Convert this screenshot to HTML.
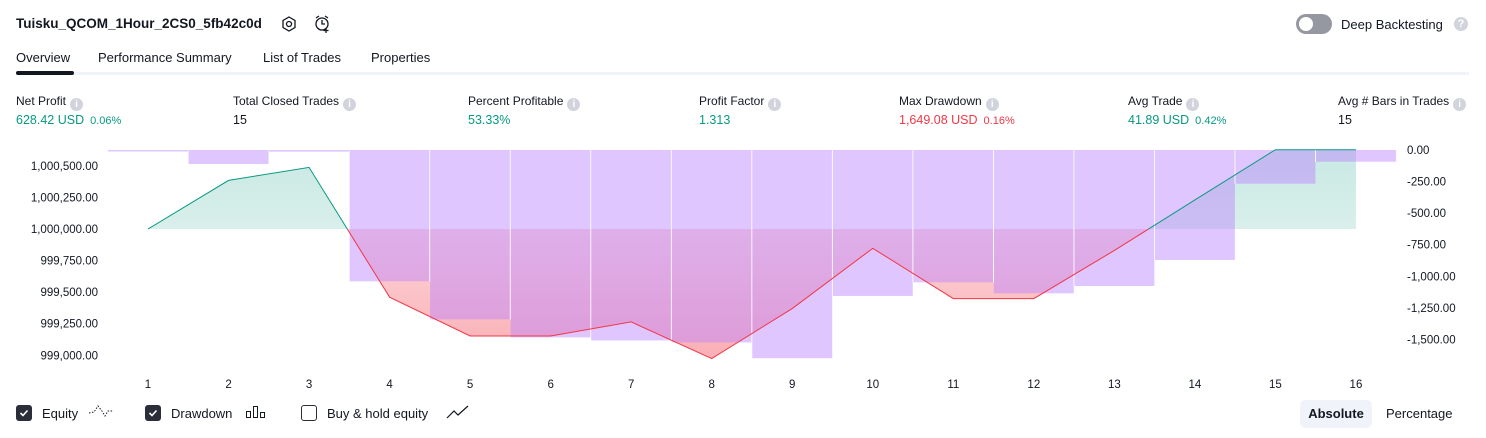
<!DOCTYPE html>
<html><head><meta charset="utf-8">
<style>
body{margin:0;width:1486px;height:438px;background:#fff;font-family:"Liberation Sans",sans-serif;color:#131722;position:relative;overflow:hidden}
.a{position:absolute;white-space:nowrap}
.lbl{font-size:12px;color:#131722}
.val{font-size:12.5px}
.pct{font-size:11px;margin-left:6px}
.info{display:inline-block;width:13px;height:13px;border-radius:50%;background:#d1d4dc;color:#fff;font-size:10px;text-align:center;line-height:13px;vertical-align:-2px;margin-left:4px;font-weight:bold}
.g{color:#089981}.r{color:#f23645}
.cb{position:absolute;width:16px;height:16px;border-radius:3px;box-sizing:border-box}
</style></head><body>
<div class="a" style="left:16px;top:16px;font-size:13.5px;font-weight:bold">Tuisku_QCOM_1Hour_2CS0_5fb42c0d</div>
<svg class="a" style="left:280px;top:15px" width="18" height="18"><polygon points="9,2 15,5.5 15,12.5 9,16 3,12.5 3,5.5" fill="none" stroke="#131722" stroke-width="1.3"/><circle cx="9" cy="9" r="2.5" fill="none" stroke="#131722" stroke-width="1.3"/></svg>
<svg class="a" style="left:313px;top:14px" width="18" height="20"><circle cx="9" cy="10" r="6" fill="none" stroke="#131722" stroke-width="1.3"/><path d="M9 6v4h3M3 4l3-2M15 4l-3-2M13 14v5M10.5 16.5h5" stroke="#131722" stroke-width="1.3" fill="none"/></svg>
<div class="a" style="left:1296px;top:14px;width:36px;height:20px;border-radius:10px;background:#9598a1"><div style="position:absolute;left:3px;top:3px;width:14px;height:14px;border-radius:50%;background:#fff"></div></div>
<div class="a" style="left:1341px;top:17px;font-size:13px">Deep Backtesting</div>
<div class="a" style="left:1454px;top:17px;width:14px;height:14px;border-radius:50%;background:#d1d4dc;color:#fff;font-size:11px;text-align:center;line-height:14px;font-weight:bold">?</div>
<div class="a" style="left:16px;top:50px;font-size:13px">Overview</div>
<div class="a" style="left:98px;top:50px;font-size:13px">Performance Summary</div>
<div class="a" style="left:263px;top:50px;font-size:13px">List of Trades</div>
<div class="a" style="left:371px;top:50px;font-size:13px">Properties</div>
<div class="a" style="left:16px;top:72px;width:1453px;height:3px;background:#f0f3fa"></div>
<div class="a" style="left:16px;top:71px;width:58px;height:4px;border-radius:2px;background:#131722"></div>

<div class="a lbl" style="left:16px;top:94px">Net Profit<span class="info">i</span></div>
<div class="a val g" style="left:16px;top:113px">628.42 USD<span class="pct">0.06%</span></div>
<div class="a lbl" style="left:233px;top:94px">Total Closed Trades<span class="info">i</span></div>
<div class="a val" style="left:233px;top:113px">15</div>
<div class="a lbl" style="left:468px;top:94px">Percent Profitable<span class="info">i</span></div>
<div class="a val g" style="left:468px;top:113px">53.33%</div>
<div class="a lbl" style="left:699px;top:94px">Profit Factor<span class="info">i</span></div>
<div class="a val g" style="left:699px;top:113px">1.313</div>
<div class="a lbl" style="left:899px;top:94px">Max Drawdown<span class="info">i</span></div>
<div class="a val r" style="left:899px;top:113px">1,649.08 USD<span class="pct">0.16%</span></div>
<div class="a lbl" style="left:1128px;top:94px">Avg Trade<span class="info">i</span></div>
<div class="a val g" style="left:1128px;top:113px">41.89 USD<span class="pct">0.42%</span></div>
<div class="a lbl" style="left:1338px;top:94px">Avg # Bars in Trades<span class="info">i</span></div>
<div class="a val" style="left:1338px;top:113px">15</div>

<svg id="chart" class="a" style="left:0;top:0" width="1486" height="395"></svg>

<div class="cb" style="left:16px;top:405px;background:#2a2e39"><svg width="16" height="16"><path d="M4.5 8l2.5 2.5 4.5-5" stroke="#fff" stroke-width="1.6" fill="none"/></svg></div>
<div class="a" style="left:42px;top:406px;font-size:13px">Equity</div>
<svg class="a" style="left:88px;top:403px" width="26" height="16"><path d="M1 10l5-1 4-6 4 5 3 5 3-5 5 0" stroke="#131722" stroke-width="1" stroke-dasharray="1.5 1.5" fill="none"/></svg>
<div class="cb" style="left:145px;top:405px;background:#2a2e39"><svg width="16" height="16"><path d="M4.5 8l2.5 2.5 4.5-5" stroke="#fff" stroke-width="1.6" fill="none"/></svg></div>
<div class="a" style="left:171px;top:406px;font-size:13px">Drawdown</div>
<svg class="a" style="left:246px;top:404px" width="22" height="16"><rect x="0.5" y="7.5" width="4" height="6" fill="none" stroke="#131722"/><rect x="7.5" y="2.5" width="4" height="11" fill="none" stroke="#131722"/><rect x="14.5" y="8.5" width="4" height="5" fill="none" stroke="#131722"/></svg>
<div class="cb" style="left:301px;top:405px;border:1.3px solid #2a2e39;background:#fff"></div>
<div class="a" style="left:327px;top:406px;font-size:13px">Buy &amp; hold equity</div>
<svg class="a" style="left:446px;top:404px" width="24" height="16"><path d="M1 14l7-7 4 4 10-9" stroke="#131722" stroke-width="1.2" fill="none"/></svg>
<div class="a" style="left:1300px;top:400px;width:72px;height:28px;border-radius:5px;background:#f0f3fa;font-size:13px;font-weight:bold;text-align:center;line-height:28px">Absolute</div>
<div class="a" style="left:1386px;top:406px;font-size:13px">Percentage</div>

<script>
const categories=[1,2,3,4,5,6,7,8,9,10,11,12,13,14,15,16];
const equityValues=[1000000,1000385,1000488,999460,999153,999153,999264,998974,999370,999847,999449,999449,999830,1000230,1000628,1000628];
const drawdownValues=[-8,-111,-13,-1040,-1341,-1484,-1508,-1524,-1649,-1156,-1048,-1135,-1077,-871,-267,-93];
const leftTicks=[1000500,1000250,1000000,999750,999500,999250,999000];
const rightTicks=[0,-250,-500,-750,-1000,-1250,-1500];
const equityBase=1000000;

const NS='http://www.w3.org/2000/svg';
const svg=document.getElementById('chart');
const PX=0.12627;
const xs=i=>148+i*80.53;
const yL=v=>229-(v-equityBase)*PX;
const yR=v=>150-v*PX;
function mk(t,a){const e=document.createElementNS(NS,t);for(const k in a)e.setAttribute(k,a[k]);svg.appendChild(e);return e;}
const defs=mk('defs',{});
defs.innerHTML='<linearGradient id="gg" x1="0" y1="0" x2="0" y2="1"><stop offset="0" stop-color="#089981" stop-opacity="0.22"/><stop offset="1" stop-color="#089981" stop-opacity="0.05"/></linearGradient><linearGradient id="rg" x1="0" y1="0" x2="0" y2="1"><stop offset="0" stop-color="#f23645" stop-opacity="0.08"/><stop offset="1" stop-color="#f23645" stop-opacity="0.4"/></linearGradient><clipPath id="ca"><rect x="0" y="0" width="1486" height="229"/></clipPath><clipPath id="cb"><rect x="0" y="229" width="1486" height="200"/></clipPath>';

let pts=categories.map((c,i)=>xs(i)+','+yL(equityValues[i])).join(' ');
let area='M'+xs(0)+','+yL(equityBase)+' L'+pts.split(' ').join(' L')+' L'+xs(categories.length-1)+','+yL(equityBase)+'Z';
let e=mk('path',{d:area,fill:'url(#gg)','clip-path':'url(#ca)'});


e=mk('path',{d:area,fill:'url(#rg)','clip-path':'url(#cb)'});



categories.forEach((c,i)=>{
  const y=yR(drawdownValues[i]);
  const b=mk('rect',{x:xs(i)-40,y:150,width:80,height:Math.max(1.5,y-150),fill:'rgba(186,128,255,0.45)'});
  
  
  if(i>2){const s=mk('line',{x1:xs(i)+40.2,y1:150,x2:xs(i)+40.2,y2:Math.min(y,yR(drawdownValues[i+1]||0)),stroke:'#fff','stroke-width':1});
  
  }
});

e=mk('polyline',{points:pts,fill:'none',stroke:'#089981','stroke-width':1,'clip-path':'url(#ca)'});


e=mk('polyline',{points:pts,fill:'none',stroke:'#f23645','stroke-width':1,'clip-path':'url(#cb)'});



leftTicks.forEach(v=>{const t=mk('text',{x:98,y:yL(v)+4,'text-anchor':'end','font-size':'11.5',fill:'#131722'});t.textContent=v.toLocaleString('en-US',{minimumFractionDigits:2});

});
rightTicks.forEach(v=>{const t=mk('text',{x:1407,y:yR(v)+4,'font-size':'11.5',fill:'#131722'});t.textContent=v.toLocaleString('en-US',{minimumFractionDigits:2});

});
categories.forEach((c,i)=>{const t=mk('text',{x:xs(i),y:388,'text-anchor':'middle','font-size':'11.5',fill:'#131722'});t.textContent=c;

});
</script>
</body></html>
